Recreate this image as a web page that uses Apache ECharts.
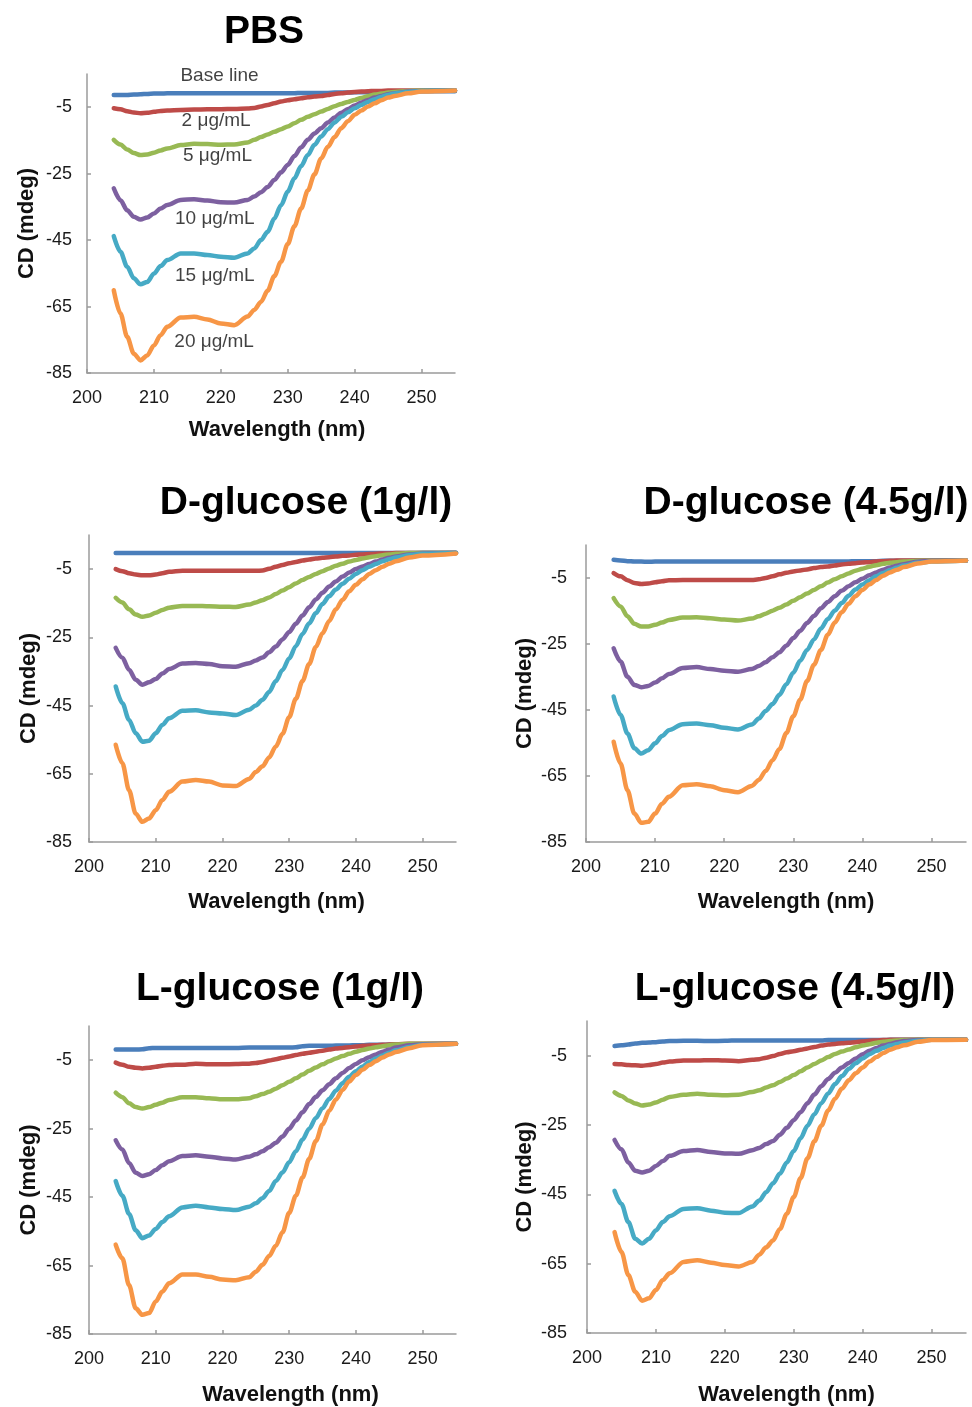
<!DOCTYPE html>
<html><head><meta charset="utf-8">
<script src="https://cdn.jsdelivr.net/npm/echarts@6/dist/echarts.min.js"></script>
<style>html,body{margin:0;padding:0;background:#fff}#c{width:972px;height:1407px}</style>
</head><body><div id="c"></div>
<script>
// ---------------- DATA ----------------
const wavelengths = [204,205,206,207,208,209,210,211,212,214,216,218,220,222,224,225,226,227,228,229,230,231,232,233,234,235,236,237,238,239,240,241,242,243,244,245,246,248,250,255];
const seriesNames = ['Base line','2 μg/mL','5 μg/mL','10 μg/mL','15 μg/mL','20 μg/mL'];
const panelTitles = ['PBS','D-glucose (1g/l)','D-glucose (4.5g/l)','L-glucose (1g/l)','L-glucose (4.5g/l)'];
const xTickLabels = [200,210,220,230,240,250];
const yTickLabels = [-85,-65,-45,-25,-5];

// PBS
const pbsBase = [-1.3,-1.3,-1.3,-1.2,-1.1,-1.0,-0.9,-0.9,-0.8, -0.8,-0.8,-0.8,-0.8,-0.8,-0.8, -0.8,-0.8,-0.8,-0.8,-0.8,-0.8,-0.8,-0.7,-0.7,-0.7,-0.7,-0.7,-0.6,-0.6,-0.6,-0.5,-0.5,-0.5,-0.4,-0.4,-0.4,-0.3, -0.3,-0.2,-0.2];
const pbs2 = [-5.3,-5.6,-6.2,-6.6,-6.8,-6.7,-6.4,-6.1,-6.0, -5.8,-5.7,-5.6,-5.6,-5.5,-5.4, -5.2,-4.8,-4.3,-3.8,-3.3,-2.9,-2.6,-2.3,-2.0,-1.8,-1.6,-1.3,-1.0,-0.8,-0.6,-0.4,-0.3,-0.2,-0.1,-0.1,0,0, 0,0,0];
const pbs5 = [-14.8,-16.2,-17.7,-18.8,-19.4,-19.2,-18.7,-18.0,-17.4, -16.4,-16.0,-16.1,-16.3,-16.2,-15.6, -14.8,-14.0,-13.2,-12.4,-11.6,-10.8,-9.8,-8.8,-7.9,-7.1,-6.3,-5.5,-4.7,-4.0,-3.4,-2.8,-2.2,-1.7,-1.2,-0.9,-0.6,-0.4, -0.1,0,0];
const pbs10 = [-29.4,-33.0,-36.0,-38.0,-38.8,-38.2,-37.0,-35.5,-34.4, -32.9,-32.7,-33.1,-33.6,-33.7,-32.9, -31.9,-30.6,-29.0,-26.9,-24.6,-22.4,-19.7,-17.1,-14.8,-12.9,-11.3,-9.6,-8.1,-6.7,-5.5,-4.5,-3.6,-2.8,-2.1,-1.6,-1.1,-0.8, -0.3,-0.1,0];
const pbs15 = [-43.8,-48.5,-53.0,-56.5,-58.3,-57.6,-55.1,-52.8,-51.0, -49.0,-49.0,-49.5,-50.0,-50.3,-49.0, -47.5,-45.0,-42.5,-38.5,-34.5,-30.4,-26.4,-22.7,-19.4,-16.3,-13.8,-11.6,-9.6,-7.9,-6.5,-5.3,-4.3,-3.4,-2.6,-1.9,-1.3,-0.9, -0.4,-0.1,0];
const pbs20 = [-60.1,-67.1,-74.1,-79.2,-81.2,-79.7,-76.7,-73.6,-71.1, -68.3,-68.1,-68.9,-70.1,-70.6,-68.0, -66.0,-63.6,-60.2,-55.8,-51.5,-46.2,-40.8,-35.5,-30.1,-25.2,-20.4,-16.9,-14.0,-11.3,-9.2,-7.3,-6.0,-4.8,-3.8,-2.9,-2.1,-1.6, -0.8,-0.3,0];

// D-glucose 1 g/l
const d1Base = [-0.3,-0.3,-0.3,-0.3,-0.3,-0.3,-0.3,-0.3,-0.3, -0.3,-0.3,-0.3,-0.3,-0.3,-0.3, -0.3,-0.3,-0.3,-0.3,-0.3,-0.3,-0.3,-0.3,-0.3,-0.3,-0.3,-0.3,-0.3,-0.3,-0.3,-0.3,-0.3,-0.3,-0.3,-0.3,-0.3,-0.3, -0.3,-0.2,-0.2];
const d1_2 = [-5.0,-5.6,-6.2,-6.6,-6.8,-6.8,-6.6,-6.2,-5.8, -5.5,-5.5,-5.5,-5.5,-5.5,-5.5, -5.5,-5.4,-4.9,-4.3,-3.8,-3.3,-2.9,-2.5,-2.2,-1.9,-1.7,-1.5,-1.3,-1.1,-1.0,-0.8,-0.7,-0.6,-0.5,-0.4,-0.4,-0.3, -0.3,-0.3,-0.3];
const d1_5 = [-13.4,-14.8,-16.8,-18.3,-19.0,-18.6,-17.8,-17.0,-16.3, -15.8,-15.8,-15.9,-16.0,-16.1,-15.4, -14.8,-14.1,-13.3,-12.3,-11.3,-10.3,-9.2,-8.2,-7.3,-6.4,-5.6,-4.8,-4.0,-3.4,-2.8,-2.3,-1.9,-1.5,-1.2,-0.9,-0.7,-0.5, -0.3,-0.3,-0.3];
const d1_10 = [-28.1,-31.0,-34.5,-37.4,-38.9,-38.2,-37.2,-35.6,-34.3, -32.7,-32.5,-32.8,-33.5,-33.6,-32.6, -31.8,-30.9,-29.4,-27.7,-25.6,-23.4,-21.0,-18.6,-16.2,-13.9,-11.9,-10.1,-8.6,-7.2,-6.0,-5.0,-4.2,-3.5,-2.8,-2.2,-1.7,-1.3, -0.7,-0.4,-0.3];
const d1_15 = [-39.4,-44.3,-49.2,-53.1,-55.6,-55.3,-53.1,-50.7,-48.7, -46.5,-46.4,-47.0,-47.3,-47.8,-46.2, -45.0,-43.3,-41.0,-37.8,-34.6,-31.2,-27.6,-24.0,-20.9,-17.9,-15.2,-12.9,-11.0,-9.3,-7.8,-6.4,-5.3,-4.3,-3.5,-2.7,-2.1,-1.6, -0.9,-0.5,-0.3];
const d1_20 = [-56.5,-61.9,-69.8,-76.7,-79.1,-78.1,-75.7,-72.7,-70.3, -67.3,-66.8,-67.3,-68.4,-68.6,-66.5, -64.5,-62.8,-60.2,-57.0,-53.3,-48.4,-43.0,-37.8,-32.8,-27.8,-23.8,-20.2,-16.8,-14.0,-11.5,-9.6,-8.0,-6.4,-5.3,-4.3,-3.4,-2.7, -1.6,-1.0,-0.4];

// D-glucose 4.5 g/l
const d45Base = [0.5,0.3,0.1,0.0,0.0,-0.1,0.0,0.0,0.0, 0.0,0.0,0.0,0.0,0.0,0.0, 0.0,0.0,0.0,0.0,0.0,0.0,0.0,0.0,0.0,0.0,0.0,0.0,0.0,0.0,0.1,0.1,0.1,0.1,0.2,0.2,0.2,0.2, 0.3,0.3,0.3];
const d45_2 = [-3.5,-4.5,-5.7,-6.5,-6.8,-6.7,-6.3,-6.0,-5.7, -5.6,-5.6,-5.6,-5.6,-5.6,-5.6, -5.4,-5.0,-4.5,-3.9,-3.4,-3.0,-2.7,-2.4,-2.0,-1.7,-1.5,-1.2,-0.9,-0.7,-0.5,-0.3,-0.2,0.0,0.1,0.2,0.3,0.3, 0.3,0.3,0.3];
const d45_5 = [-11.1,-13.6,-16.6,-18.9,-19.7,-19.7,-19.2,-18.5,-17.7, -17.0,-16.9,-17.2,-17.6,-17.9,-17.3, -16.6,-15.8,-14.9,-14.0,-13.0,-11.9,-10.8,-9.7,-8.6,-7.5,-6.4,-5.4,-4.5,-3.6,-2.8,-2.2,-1.6,-1.1,-0.7,-0.4,-0.2,0.0, 0.2,0.3,0.3];
const d45_10 = [-26.3,-30.3,-34.9,-37.4,-38.1,-37.7,-36.7,-35.4,-34.1, -32.3,-32.0,-32.6,-33.1,-33.4,-32.6, -31.7,-30.5,-29.0,-27.5,-25.5,-23.2,-21.0,-18.6,-16.5,-14.2,-12.3,-10.5,-8.9,-7.5,-6.3,-5.2,-4.2,-3.3,-2.5,-1.8,-1.3,-0.8, -0.1,0.2,0.3];
const d45_15 = [-40.9,-46.5,-52.1,-56.6,-58.2,-57.2,-55.1,-52.9,-51.1, -49.3,-49.1,-49.6,-50.4,-50.9,-49.4, -47.6,-45.3,-43.2,-40.4,-37.2,-33.7,-30.1,-26.8,-23.6,-20.3,-17.4,-14.9,-12.6,-10.4,-8.5,-7.0,-5.7,-4.5,-3.5,-2.6,-1.9,-1.2, -0.4,0.0,0.3];
const d45_20 = [-54.6,-61.2,-69.3,-76.4,-79.2,-78.9,-76.4,-73.4,-71.3, -67.8,-67.5,-68.1,-69.3,-69.9,-68.0, -66.2,-63.5,-60.2,-56.8,-52.0,-46.9,-41.9,-36.2,-31.3,-26.8,-22.2,-18.5,-15.4,-12.8,-10.5,-8.6,-7.0,-5.6,-4.3,-3.3,-2.5,-1.7, -0.6,0.0,0.3];

// L-glucose 1 g/l
const l1Base = [-1.9,-1.9,-1.9,-1.9,-1.8,-1.5,-1.4,-1.4,-1.4, -1.4,-1.4,-1.4,-1.4,-1.4,-1.3, -1.3,-1.3,-1.3,-1.3,-1.3,-1.3,-1.2,-0.9,-0.8,-0.8,-0.8,-0.8,-0.7,-0.7,-0.7,-0.6,-0.6,-0.5,-0.5,-0.5,-0.4,-0.4, -0.3,-0.3,-0.2];
const l1_2 = [-5.7,-6.3,-6.9,-7.2,-7.4,-7.2,-6.9,-6.6,-6.4, -6.3,-6.0,-6.2,-6.2,-6.1,-6.0, -5.8,-5.5,-5.1,-4.7,-4.3,-3.9,-3.5,-3.1,-2.8,-2.5,-2.2,-1.9,-1.6,-1.4,-1.2,-1.0,-0.8,-0.7,-0.6,-0.5,-0.4,-0.3, -0.2,-0.2,-0.2];
const l1_5 = [-14.5,-15.8,-17.6,-18.7,-19.1,-18.7,-18.0,-17.4,-16.6, -15.8,-15.8,-16.1,-16.4,-16.4,-16.1, -15.5,-14.9,-14.2,-13.3,-12.3,-11.3,-10.3,-9.2,-8.1,-7.1,-6.2,-5.3,-4.5,-3.8,-3.1,-2.5,-2.0,-1.6,-1.2,-0.9,-0.6,-0.4, -0.2,-0.2,-0.2];
const l1_10 = [-28.4,-31.1,-35.0,-37.9,-38.8,-38.3,-37.1,-35.7,-34.5, -33.0,-32.8,-33.2,-33.7,-34.0,-33.2, -32.5,-31.6,-30.4,-29.1,-27.3,-25.0,-22.6,-20.2,-17.8,-15.7,-13.8,-12.0,-10.3,-8.7,-7.3,-6.1,-5.0,-4.1,-3.3,-2.5,-1.9,-1.3, -0.6,-0.3,-0.2];
const l1_15 = [-40.3,-44.6,-49.9,-54.7,-57.0,-56.2,-54.3,-52.3,-50.6, -48.0,-47.5,-48.0,-48.5,-48.8,-47.8, -46.8,-45.3,-43.2,-40.3,-37.8,-34.8,-31.6,-28.2,-25.0,-21.9,-19.0,-16.3,-13.9,-11.7,-9.8,-8.2,-6.8,-5.5,-4.5,-3.6,-2.8,-2.1, -1.1,-0.5,-0.2];
const l1_20 = [-58.9,-62.9,-70.7,-77.5,-79.4,-78.9,-75.5,-72.6,-70.2, -67.6,-67.6,-68.3,-69.1,-69.3,-68.4, -66.8,-64.8,-62.2,-59.2,-55.3,-49.6,-44.6,-39.3,-33.8,-28.6,-23.8,-19.8,-16.5,-13.7,-11.2,-9.3,-7.8,-6.4,-5.3,-4.2,-3.3,-2.6, -1.5,-0.6,-0.2];

// L-glucose 4.5 g/l
const l45Base = [-2.2,-2.0,-1.8,-1.5,-1.3,-1.2,-1.1,-0.9,-0.8, -0.7,-0.7,-0.8,-0.7,-0.6,-0.6, -0.6,-0.6,-0.6,-0.6,-0.6,-0.6,-0.6,-0.6,-0.6,-0.6,-0.5,-0.5,-0.5,-0.5,-0.5,-0.5,-0.5,-0.5,-0.5,-0.4,-0.4,-0.4, -0.4,-0.4,-0.4];
const l45_2 = [-7.4,-7.5,-7.7,-7.8,-7.9,-7.7,-7.4,-7.0,-6.7, -6.4,-6.4,-6.3,-6.4,-6.6,-6.2, -6.0,-5.6,-5.1,-4.5,-4.0,-3.7,-3.3,-2.9,-2.5,-2.1,-1.8,-1.6,-1.4,-1.3,-1.1,-0.9,-0.7,-0.6,-0.5,-0.4,-0.4,-0.4, -0.4,-0.4,-0.4];
const l45_5 = [-15.6,-16.6,-17.9,-18.8,-19.4,-19.1,-18.5,-17.7,-16.9, -16.3,-16.0,-16.3,-16.4,-16.3,-15.5, -15.0,-14.2,-13.5,-12.6,-11.6,-10.6,-9.5,-8.4,-7.4,-6.4,-5.4,-4.5,-3.8,-3.2,-2.6,-2.1,-1.7,-1.3,-1.0,-0.8,-0.6,-0.5, -0.4,-0.4,-0.4];
const l45_10 = [-29.3,-32.0,-35.8,-38.2,-38.7,-38.2,-36.8,-35.4,-33.9, -32.5,-32.2,-32.8,-33.2,-33.3,-32.3, -31.6,-30.5,-29.6,-27.8,-25.8,-23.6,-21.3,-18.7,-16.2,-13.8,-11.7,-9.9,-8.4,-7.1,-5.8,-4.6,-3.6,-2.8,-2.1,-1.6,-1.1,-0.8, -0.5,-0.4,-0.4];
const l45_15 = [-44.0,-47.8,-53.0,-57.8,-59.2,-57.8,-55.4,-53.0,-51.3, -49.2,-49.0,-49.7,-50.3,-50.4,-48.5, -46.8,-44.4,-41.8,-39.0,-35.8,-32.5,-28.8,-25.2,-21.9,-18.7,-15.9,-13.2,-10.9,-8.8,-7.2,-5.8,-4.6,-3.6,-2.8,-2.1,-1.6,-1.2, -0.7,-0.4,-0.4];
const l45_20 = [-55.9,-61.6,-68.3,-73.1,-75.7,-75.0,-72.6,-69.7,-67.8, -64.5,-64.0,-64.7,-65.4,-65.8,-64.5, -62.4,-60.3,-58.3,-55.0,-50.6,-45.8,-40.3,-34.6,-29.7,-25.2,-20.8,-17.4,-14.5,-12.1,-10.1,-8.4,-6.7,-5.4,-4.2,-3.3,-2.6,-2.0, -1.0,-0.5,-0.4];

const panelData = [
  [pbsBase, pbs2, pbs5, pbs10, pbs15, pbs20],
  [d1Base, d1_2, d1_5, d1_10, d1_15, d1_20],
  [d45Base, d45_2, d45_5, d45_10, d45_15, d45_20],
  [l1Base, l1_2, l1_5, l1_10, l1_15, l1_20],
  [l45Base, l45_2, l45_5, l45_10, l45_15, l45_20]
];

// ---------------- LAYOUT / STYLE ----------------
const colors = ['#4a7ebb','#be4b48','#98b954','#7d60a0','#46aac5','#f79646'];
const FONT = 'Liberation Sans, Arial, Helvetica, sans-serif';
const grids = [
  {left:87,  top:74,   width:368, height:299},
  {left:89,  top:535,  width:367, height:307},
  {left:586, top:545,  width:380, height:297},
  {left:89,  top:1026, width:367, height:310},
  {left:587, top:1021, width:379, height:314}
];
const titlePos = [[264,32],[306,503],[806,503],[280,989],[795,989]];
const xNameGap = [46,49,49,50,51];
const xNameShift = [6,4,10,18,10];
const yNameGap = [49,49,50,49,51];
const yLabelMargin = [15,17,19,17,20];
const xLabelMargin = 16;
// PBS annotation anchors (data units)
const noteLambda = [219.8,219.3,219.5,219.1,219.1,219.0];
const noteCD = [4.5,-9.1,-19.6,-38.6,-55.8,-75.7];

const axisColor = '#9b9b9b';
const xAxes = [], yAxes = [], series = [];
grids.forEach((g, i) => {
  xAxes.push({
    type:'value', gridIndex:i, min:200, max:255, interval:10,
    axisLine:{show:true, onZero:false, lineStyle:{color:axisColor, width:1.5}},
    axisTick:{show:true, inside:true, length:4, lineStyle:{color:axisColor, width:1.5}},
    splitLine:{show:false},
    axisLabel:{show:true, showMaxLabel:false, margin:xLabelMargin, fontSize:18, color:'#1a1a1a', fontFamily:FONT,
      formatter: v => xTickLabels.includes(v) ? String(v) : ''},
    name:'Wavelength (nm)', nameLocation:'middle', nameGap:xNameGap[i],
    nameTextStyle:{fontSize:22, fontWeight:'bold', color:'#111', fontFamily:FONT, padding:[0,0,0,2*xNameShift[i]]}
  });
  yAxes.push({
    type:'value', gridIndex:i, min:-85, max:5, interval:20,
    axisLine:{show:true, onZero:false, lineStyle:{color:axisColor, width:1.5}},
    axisTick:{show:true, inside:true, length:4, lineStyle:{color:axisColor, width:1.5}},
    splitLine:{show:false},
    axisLabel:{show:true, showMaxLabel:false, margin:yLabelMargin[i], fontSize:18, color:'#1a1a1a', fontFamily:FONT,
      formatter: v => yTickLabels.includes(v) ? String(v) : ''},
    name:'CD (mdeg)', nameLocation:'middle', nameGap:yNameGap[i], nameRotate:90,
    nameTextStyle:{fontSize:22, fontWeight:'bold', color:'#111', fontFamily:FONT}
  });
  panelData[i].forEach((vals, s) => {
    series.push({
      type:'line', name:seriesNames[s], xAxisIndex:i, yAxisIndex:i,
      data: wavelengths.map((w, k) => [w, vals[k]]),
      showSymbol:false, smooth:0.3, smoothMonotone:'x',
      lineStyle:{width:4.5, color:colors[s], cap:'round', join:'round'}, itemStyle:{color:colors[s]},
      animation:false, silent:true
    });
  });
});
// labels on the PBS panel
series.push({
  type:'scatter', xAxisIndex:0, yAxisIndex:0, symbolSize:0, silent:true, animation:false,
  data: seriesNames.map((n, k) => ({value:[noteLambda[k], noteCD[k]], name:n})),
  label:{show:true, position:'inside', formatter: p => p.name, fontSize:19, color:'#111', fontFamily:FONT},
  z:10
});

const graphic = panelTitles.map((t, i) => ({
  type:'text', x:titlePos[i][0], y:titlePos[i][1], silent:true,
  style:{text:t, fill:'#000', font:'bold 39px ' + FONT, textAlign:'center', textVerticalAlign:'middle'}
}));

const chart = echarts.init(document.getElementById('c'), null, {renderer:'canvas'});
chart.setOption({
  animation:false, backgroundColor:'#fff',
  grid: grids.map(g => Object.assign({containLabel:false}, g)),
  xAxis: xAxes, yAxis: yAxes, series: series, graphic: graphic
});
</script></body></html>
